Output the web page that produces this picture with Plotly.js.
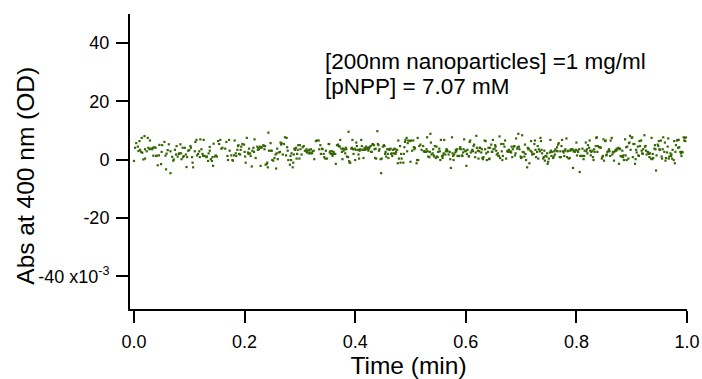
<!DOCTYPE html>
<html>
<head>
<meta charset="utf-8">
<script src="https://cdn.plot.ly/plotly-3.0.1.min.js"></script>
<style>html,body{margin:0;padding:0;background:#fff;}#chart{width:702px;height:379px;}</style>
</head>
<body>
<div id="chart"></div>
<script>
// Absorbance readings: [time (min), Abs at 400 nm (x10^-3 OD)]
const readings = [
[0.000,-0.4],[0.002,4.1],[0.004,5.7],[0.007,4.5],[0.008,3.0],[0.010,6.4],[0.011,3.4],[0.013,2.7],[0.014,7.5],[0.015,2.4],[0.017,0.1],[0.019,8.1],[0.020,3.6],[0.020,0.4],[0.023,2.9],[0.025,7.5],[0.026,4.1],[0.028,3.6],[0.029,6.6],[0.030,3.8],[0.033,3.6],[0.034,4.1],[0.035,1.4],[0.037,4.3],[0.039,4.1],[0.040,1.3],[0.041,1.4],[0.043,-1.9],[0.045,1.5],[0.046,5.1],[0.049,-1.5],[0.050,2.7],[0.051,5.0],[0.055,6.1],[0.057,1.4],[0.058,-3.3],[0.059,2.1],[0.061,3.3],[0.063,5.3],[0.066,-4.6],[0.066,2.9],[0.069,1.0],[0.071,-0.3],[0.072,0.1],[0.074,3.4],[0.076,1.8],[0.077,4.7],[0.079,1.1],[0.081,2.0],[0.082,2.2],[0.084,5.3],[0.085,2.2],[0.086,0.2],[0.088,4.1],[0.089,0.9],[0.090,1.3],[0.092,4.1],[0.094,1.8],[0.095,-2.5],[0.096,0.9],[0.098,3.1],[0.100,3.3],[0.102,4.7],[0.103,4.1],[0.105,0.9],[0.106,-1.0],[0.107,-2.6],[0.110,2.9],[0.111,6.1],[0.113,6.8],[0.114,1.5],[0.116,2.0],[0.118,2.9],[0.119,0.9],[0.120,7.0],[0.122,3.6],[0.124,2.0],[0.125,1.3],[0.126,6.8],[0.128,1.3],[0.131,0.9],[0.132,1.1],[0.134,-0.4],[0.135,2.2],[0.137,4.4],[0.137,3.1],[0.139,0.2],[0.141,-0.4],[0.142,0.9],[0.143,-2.1],[0.144,5.5],[0.146,1.1],[0.148,1.5],[0.150,1.1],[0.152,6.4],[0.154,5.4],[0.156,6.8],[0.158,3.8],[0.160,4.1],
[0.165,3.8],[0.167,6.1],[0.169,1.3],[0.170,-0.1],[0.172,6.8],[0.173,3.1],[0.176,1.5],[0.178,-0.1],[0.179,-0.3],[0.181,1.5],[0.182,6.6],[0.184,2.2],[0.185,1.3],[0.187,3.4],[0.188,4.7],[0.189,5.0],[0.190,2.0],[0.192,1.8],[0.193,3.4],[0.194,4.5],[0.196,5.4],[0.199,5.2],[0.200,2.7],[0.201,1.1],[0.202,-1.0],[0.204,7.5],[0.206,2.5],[0.207,2.0],[0.208,3.8],[0.210,2.2],[0.211,1.3],[0.213,-2.3],[0.214,3.1],[0.216,4.1],[0.217,2.7],[0.218,7.0],[0.220,0.6],[0.223,4.5],[0.224,3.4],[0.225,4.1],[0.226,3.6],[0.228,4.5],[0.229,-2.1],[0.230,4.1],[0.231,4.3],[0.234,5.0],[0.235,4.7],[0.236,3.6],[0.237,4.7],[0.238,-1.7],[0.240,-1.4],[0.241,-1.0],[0.242,-2.6],[0.243,9.3],[0.244,3.1],[0.247,5.7],[0.248,3.1],[0.249,3.1],[0.250,-0.1],[0.252,-0.3],[0.254,0.6],[0.256,1.8],[0.257,-3.0],[0.258,2.2],[0.259,3.8],[0.260,0.2],[0.262,2.5],[0.264,2.7],[0.265,5.9],[0.266,5.2],[0.267,5.7],[0.269,1.8],[0.271,5.4],[0.273,7.7],[0.275,1.5],[0.276,7.5],[0.277,4.3],[0.278,3.1],[0.279,-0.1],[0.282,-1.7],[0.283,1.3],[0.284,-0.1],[0.285,2.2],[0.287,-2.6],[0.288,-1.0],[0.289,1.8],[0.290,3.8],[0.291,3.4],[0.293,4.1],[0.294,0.4],[0.295,2.0],[0.296,3.4],[0.297,5.0],[0.299,0.4],[0.300,5.0],[0.301,3.6],[0.303,1.8],[0.305,4.3],[0.307,4.7],[0.309,3.1],[0.311,2.9],[0.312,3.6],[0.313,2.5],[0.314,3.1],[0.316,2.2],[0.317,3.4],[0.318,2.5],[0.319,2.2],[0.320,3.6],[0.322,2.2],[0.323,2.9],[0.325,3.1],[0.326,0.2],[0.329,6.4],[0.331,6.6],
[0.334,6.6],[0.335,3.6],[0.337,5.0],[0.338,2.0],[0.340,3.8],[0.341,3.6],[0.343,2.0],[0.344,0.9],[0.346,0.4],[0.347,3.1],[0.349,0.4],[0.352,5.4],[0.353,5.4],[0.354,2.5],[0.355,2.9],[0.356,2.0],[0.358,2.9],[0.359,1.3],[0.360,2.0],[0.361,2.7],[0.362,2.0],[0.364,2.0],[0.365,-1.4],[0.367,5.0],[0.369,5.2],[0.370,4.7],[0.371,4.7],[0.372,4.5],[0.373,6.8],[0.375,3.8],[0.376,2.7],[0.377,0.2],[0.378,3.8],[0.379,3.1],[0.381,3.6],[0.382,2.2],[0.383,4.1],[0.384,3.6],[0.385,1.1],[0.387,0.9],[0.388,9.6],[0.389,-0.5],[0.390,-1.0],[0.391,-1.0],[0.393,3.8],[0.394,4.1],[0.395,6.8],[0.396,3.6],[0.397,2.0],[0.399,3.8],[0.400,-0.1],[0.401,3.4],[0.402,5.9],[0.403,4.7],[0.405,3.4],[0.406,1.8],[0.407,0.4],[0.408,3.1],[0.409,3.6],[0.411,6.8],[0.412,4.7],[0.413,3.4],[0.414,3.4],[0.415,0.6],[0.417,4.1],[0.418,3.4],[0.419,3.8],[0.420,4.5],[0.422,3.6],[0.423,4.1],[0.424,3.1],[0.425,3.8],[0.426,4.3],[0.428,4.7],[0.429,2.7],[0.430,2.7],[0.431,5.2],[0.432,5.4],[0.434,5.0],[0.435,3.6],[0.436,0.6],[0.437,3.8],[0.438,0.4],[0.440,9.8],[0.441,5.4],[0.442,5.0],[0.443,3.1],[0.444,3.6],[0.446,0.2],[0.447,-4.6],[0.448,0.4],[0.450,4.5],[0.452,5.0],[0.453,4.7],[0.454,2.0],[0.455,2.7],[0.456,1.1],[0.458,3.6],[0.459,2.0],[0.460,0.6],[0.461,3.6],[0.462,3.4],[0.464,3.8],[0.465,2.0],[0.466,2.2],[0.467,1.3],[0.468,3.4],[0.470,2.2],[0.471,3.8],[0.472,3.6],[0.473,2.0],[0.474,2.7],[0.476,3.4],[0.477,-1.2],[0.478,6.6],[0.479,0.4],[0.481,4.7],[0.482,-1.0],[0.483,2.0],[0.484,0.4],[0.487,-1.0],[0.488,2.0],[0.489,4.3],[0.490,6.1],[0.491,6.8],[0.493,7.5],[0.494,2.9],[0.495,5.7],[0.496,6.6],[0.499,6.4],[0.500,-0.7],[0.501,6.6],
[0.503,3.1],[0.505,6.6],[0.506,4.3],[0.507,3.6],[0.508,4.1],[0.511,-1.2],[0.512,-0.1],[0.513,7.5],[0.514,-0.1],[0.516,4.7],[0.518,5.2],[0.520,3.4],[0.523,4.7],[0.524,2.9],[0.525,2.9],[0.526,2.7],[0.528,2.7],[0.529,3.6],[0.530,7.7],[0.531,2.9],[0.532,1.1],[0.534,0.9],[0.535,2.7],[0.536,8.9],[0.537,5.9],[0.538,1.8],[0.540,2.2],[0.541,3.6],[0.542,1.5],[0.543,1.1],[0.544,4.7],[0.546,0.6],[0.547,4.5],[0.548,1.1],[0.549,0.9],[0.550,2.7],[0.552,3.8],[0.553,2.9],[0.554,-0.1],[0.555,6.8],[0.557,1.3],[0.558,0.6],[0.559,1.5],[0.560,2.2],[0.561,6.8],[0.563,1.8],[0.564,2.9],[0.565,3.6],[0.566,3.4],[0.567,2.9],[0.569,1.8],[0.571,2.7],[0.572,0.2],[0.573,-2.8],[0.575,7.7],[0.576,2.2],[0.577,1.3],[0.578,-0.1],[0.579,1.8],[0.581,2.5],[0.582,3.4],[0.583,2.9],[0.584,3.6],[0.585,1.3],[0.587,1.3],[0.588,1.3],[0.589,3.8],[0.590,4.3],[0.591,3.6],[0.593,1.5],[0.594,1.3],[0.595,2.5],[0.596,3.6],[0.597,7.0],[0.599,2.9],[0.600,3.1],[0.601,-2.1],[0.602,2.0],[0.603,3.4],[0.605,1.3],[0.606,1.1],[0.607,6.1],[0.608,6.6],[0.609,2.5],[0.611,3.1],[0.612,3.4],[0.613,2.9],[0.614,4.7],[0.615,5.2],[0.617,0.9],[0.618,2.5],[0.619,8.2],[0.620,4.1],[0.622,3.1],[0.623,0.4],[0.624,2.9],[0.625,4.1],[0.626,4.1],[0.628,2.5],[0.629,3.6],[0.630,0.6],[0.631,0.2],[0.632,0.9],[0.634,6.6],[0.635,3.6],[0.636,6.4],[0.637,2.2],[0.638,-0.1],[0.640,2.7],[0.641,4.1],[0.642,0.2],[0.643,0.4],[0.644,4.1],[0.646,5.2],[0.647,2.7],[0.648,2.7],[0.649,6.8],[0.650,3.6],[0.652,3.8],[0.653,5.0],[0.654,4.5],[0.655,3.1],[0.656,1.8],[0.658,2.2],[0.659,1.3],[0.660,1.3],[0.661,8.0],[0.662,0.6],[0.664,5.4],[0.665,2.9],[0.666,-0.1],[0.667,1.3],[0.668,5.4],[0.670,4.5],[0.671,6.6],
[0.673,0.4],[0.675,2.9],[0.676,3.1],[0.677,2.7],[0.678,3.4],[0.679,2.7],[0.681,2.9],[0.682,2.5],[0.683,4.5],[0.684,0.9],[0.685,3.6],[0.687,4.5],[0.688,4.7],[0.689,1.5],[0.690,2.2],[0.691,7.3],[0.693,3.8],[0.694,4.3],[0.695,8.9],[0.696,4.5],[0.697,3.6],[0.699,1.1],[0.700,0.6],[0.701,0.9],[0.702,8.4],[0.703,2.7],[0.705,2.5],[0.706,1.1],[0.707,5.2],[0.708,2.0],[0.709,-0.1],[0.711,-2.6],[0.712,4.1],[0.713,3.6],[0.714,3.8],[0.715,-1.2],[0.717,3.1],[0.718,6.4],[0.719,2.7],[0.720,1.8],[0.721,2.0],[0.723,2.0],[0.724,5.4],[0.725,6.6],[0.726,3.4],[0.727,0.9],[0.729,2.7],[0.730,4.7],[0.731,0.4],[0.732,3.6],[0.734,2.9],[0.735,7.5],[0.736,6.4],[0.737,3.4],[0.738,2.2],[0.740,0.4],[0.741,0.9],[0.742,3.1],[0.743,-0.3],[0.744,1.3],[0.746,1.1],[0.747,2.2],[0.748,-1.4],[0.749,-0.7],[0.750,0.4],[0.752,2.5],[0.753,6.8],[0.754,3.1],[0.755,1.3],[0.756,2.7],[0.758,0.6],[0.759,1.1],[0.760,2.9],[0.761,1.8],[0.762,3.6],[0.764,3.1],[0.765,4.3],[0.766,2.9],[0.767,5.2],[0.768,5.7],[0.770,0.9],[0.771,2.9],[0.772,0.9],[0.773,4.7],[0.774,6.8],[0.776,2.9],[0.777,2.5],[0.778,1.3],[0.779,3.1],[0.780,3.6],[0.782,7.3],[0.783,0.9],[0.784,2.9],[0.785,3.1],[0.786,0.4],[0.788,0.6],[0.789,3.1],[0.790,3.6],[0.791,3.4],[0.793,3.6],[0.794,-2.8],[0.795,2.9],[0.796,3.1],[0.797,2.7],[0.799,3.4],[0.800,5.9],[0.801,1.5],[0.802,3.1],[0.803,2.7],[0.805,3.6],[0.806,-4.2],[0.807,1.3],[0.808,1.3],[0.809,1.3],[0.811,3.8],[0.812,1.3],[0.813,0.2],[0.814,1.3],[0.815,3.1],[0.817,5.9],[0.818,2.9],[0.819,3.6],[0.820,2.2],[0.821,5.0],[0.823,4.1],[0.824,6.6],[0.825,3.1],[0.826,1.5],[0.827,2.7],[0.829,3.1],[0.830,0.9],[0.831,-0.1],[0.832,3.6],[0.833,2.7],[0.835,4.7],[0.836,7.5],[0.837,7.7],[0.838,2.7],[0.839,4.7],[0.841,4.3],
[0.843,4.3],[0.844,4.1],[0.846,0.4],[0.847,0.9],[0.848,1.3],[0.849,7.0],[0.850,-0.3],[0.852,6.4],[0.853,6.6],[0.854,1.5],[0.855,1.8],[0.856,2.7],[0.858,3.1],[0.859,3.6],[0.860,2.9],[0.861,1.3],[0.862,6.6],[0.864,7.5],[0.865,1.8],[0.866,2.7],[0.867,2.5],[0.868,-0.3],[0.870,2.9],[0.871,3.4],[0.872,3.1],[0.873,3.8],[0.874,3.6],[0.876,4.1],[0.877,-1.4],[0.878,3.6],[0.879,3.8],[0.880,1.3],[0.882,1.1],[0.883,3.1],[0.884,0.9],[0.885,1.5],[0.886,-0.1],[0.888,7.0],[0.889,1.5],[0.890,4.3],[0.891,-0.1],[0.892,4.5],[0.894,0.4],[0.895,5.7],[0.896,5.9],[0.897,8.2],[0.898,3.4],[0.900,7.5],[0.901,7.7],[0.902,0.9],[0.903,5.4],[0.905,5.4],[0.906,-1.4],[0.907,0.2],[0.908,3.4],[0.909,2.5],[0.911,4.5],[0.912,1.5],[0.913,1.3],[0.914,6.4],[0.915,4.7],[0.917,6.6],[0.918,3.1],[0.919,2.2],[0.920,2.0],[0.921,3.6],[0.923,8.4],[0.924,4.5],[0.925,4.7],[0.926,3.1],[0.927,1.8],[0.929,2.7],[0.930,2.5],[0.931,2.0],[0.932,0.9],[0.933,2.2],[0.935,0.4],[0.936,7.5],[0.937,0.2],[0.938,2.0],[0.939,0.6],[0.941,3.8],[0.942,5.0],[0.943,3.6],[0.944,-3.7],[0.945,1.5],[0.947,5.2],[0.948,4.7],[0.949,6.4],[0.950,3.6],[0.951,3.4],[0.953,6.6],[0.954,1.1],[0.955,0.4],[0.956,3.6],[0.957,7.7],[0.959,2.7],[0.960,5.9],[0.961,-0.3],[0.962,0.6],[0.964,2.5],[0.965,4.5],[0.966,7.3],[0.967,0.4],[0.968,1.1],[0.970,2.2],[0.971,1.3],[0.972,1.8],[0.973,0.4],[0.974,3.4],[0.976,-0.1],[0.977,6.4],[0.978,-1.2],[0.979,2.7],[0.980,5.0],[0.982,6.6],[0.983,6.8],[0.984,4.1],[0.985,6.8],[0.986,4.3],[0.988,2.7],[0.989,2.2],[0.990,1.3],[0.991,2.7],[0.992,2.5],[0.994,7.7],[0.995,6.6],[0.996,7.5],[0.997,6.4],[0.999,7.7]
];
const timeMin = readings.map(r => r[0]);
const absMilliOD = readings.map(r => r[1]);

const xTickVals = [0, 0.2, 0.4, 0.6, 0.8, 1.0];
const xTickText = ['0.0', '0.2', '0.4', '0.6', '0.8', '1.0'];
const yTickVals = [-40, -20, 0, 20, 40];
const yTickText = ['-40 x10<sup>-3</sup>', '-20', '0', '20', '40'];
const xTitle = 'Time (min)';
const yTitle = 'Abs at 400 nm (OD)';
const noteLines = ['[200nm nanoparticles] =1 mg/ml', '[pNPP] = 7.07 mM'];

const FONT = 'Liberation Sans, Arial, Helvetica, sans-serif';

const trace = {
  x: timeMin,
  y: absMilliOD,
  type: 'scatter',
  mode: 'markers',
  marker: { symbol: 'square', size: 2.2, color: '#336600', line: { width: 0 } },
  hoverinfo: 'skip'
};

const layout = {
  width: 702,
  height: 379,
  margin: { l: 130, r: 15, t: 14, b: 70 },
  paper_bgcolor: '#ffffff',
  plot_bgcolor: '#ffffff',
  showlegend: false,
  font: { family: FONT, color: '#000000' },
  xaxis: {
    range: [-0.0072, 1.0],
    showline: true, linecolor: '#000', linewidth: 2,
    ticks: 'outside', ticklen: 12, tickwidth: 2, tickcolor: '#000',
    ticklabelstandoff: 3,
    tickvals: xTickVals, ticktext: xTickText,
    tickfont: { family: FONT, size: 18, color: '#000' },
    showgrid: false, zeroline: false,
    title: { text: xTitle, font: { family: FONT, size: 24.5, color: '#000' }, standoff: 7 }
  },
  yaxis: {
    range: [-51.2, 50],
    showline: true, linecolor: '#000', linewidth: 2,
    ticks: 'outside', ticklen: 12, tickwidth: 2, tickcolor: '#000',
    ticklabelstandoff: 3,
    tickvals: yTickVals, ticktext: yTickText,
    tickfont: { family: FONT, size: 18, color: '#000' },
    showgrid: false, zeroline: false,
    title: { text: '' }
  },
  annotations: [
    { text: yTitle, textangle: -90, xref: 'paper', yref: 'paper', x: -0.1867, y: 0.452,
      xanchor: 'center', yanchor: 'middle', showarrow: false,
      font: { family: FONT, size: 24.5, color: '#000' } },
    { text: noteLines[0], x: 0.3415, y: 33.8, xref: 'x', yref: 'y', xanchor: 'left', yanchor: 'middle',
      showarrow: false, font: { family: FONT, size: 22.5, color: '#000' } },
    { text: noteLines[1], x: 0.3415, y: 25.2, xref: 'x', yref: 'y', xanchor: 'left', yanchor: 'middle',
      showarrow: false, font: { family: FONT, size: 22.5, color: '#000' } }
  ]
};

Plotly.newPlot('chart', [trace], layout, { displayModeBar: false, staticPlot: true });
</script>
</body>
</html>
